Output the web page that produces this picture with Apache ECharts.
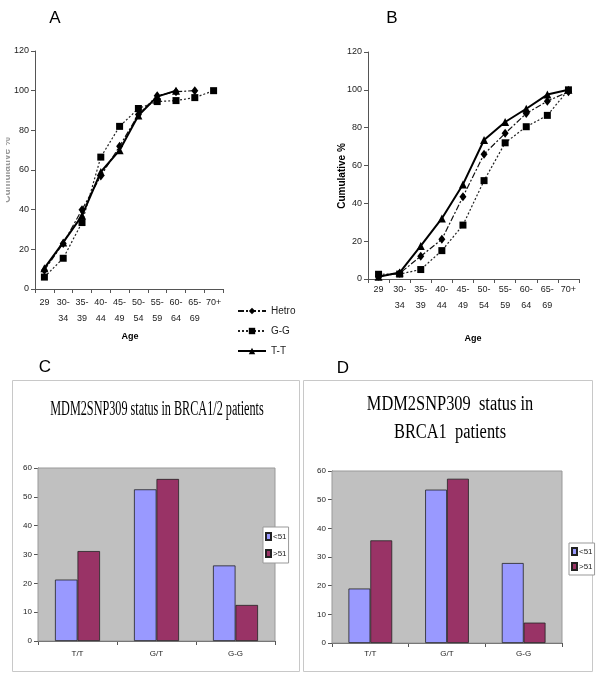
<!DOCTYPE html>
<html><head><meta charset="utf-8">
<script src="https://cdn.jsdelivr.net/npm/echarts@6/dist/echarts.min.js"></script>
<style>html,body{margin:0;padding:0;background:#fff}#c{width:600px;height:681px}</style>
</head><body><div id="c"></div>
<script>
const ageCats = ['29','30-\n34','35-\n39','40-\n44','45-\n49','50-\n54','55-\n59','60-\n64','65-\n69','70+'];
const lineNames = ['Hetro','G-G','T-T'];
const hetroA = [9.5,23,40,57,72,88,97.5,99.5,100,null];
const ggA    = [6,15.5,33.5,66.5,82,91,94.5,95,96.5,100];
const ttA    = [10.5,23.5,37,59,70,87.5,97,100,null,null];
const hetroB = [1.5,3,12,21,43.5,66,77,87.5,94,99];
const ggB    = [2.5,2.6,5,15,28.5,52,72,80.5,86.5,100];
const ttB    = [1.2,3.4,17.5,32,50,73.5,83,90,97.5,100];
const genoCats = ['T/T','G/T','G-G'];
const barNames = ['<51','>51'];
const ltC = [21.3,52.6,26.2];
const gtC = [31.2,56.2,12.5];
const ltD = [19,53.5,27.9];
const gtD = [35.8,57.3,7.1];
const cumTicks = [0,20,40,60,80,100,120];
const barTicks = [0,10,20,30,40,50,60];

const sans = "'Liberation Sans Narrow','Liberation Sans',Arial,sans-serif";
const serif = "'Liberation Serif','Times New Roman',serif";
const chart = echarts.init(document.getElementById('c'), null, {renderer:'canvas'});

function catAxis(gi, data, fs, lh, margin){
  return {type:'category', gridIndex:gi, data:data, boundaryGap:true,
    axisLine:{lineStyle:{color:'#555',width:1}},
    axisTick:{show:true, inside:false, length:4, alignWithLabel:false, lineStyle:{color:'#555'}},
    axisLabel:{fontFamily:sans, fontSize:fs, color:'#222', lineHeight:lh, margin:margin, interval:0}};
}
function valAxis(gi, ticks, fs, split){
  return {type:'value', gridIndex:gi, min:ticks[0], max:ticks[ticks.length-1], interval:ticks[1]-ticks[0],
    axisLine:{show:true, lineStyle:{color:'#555'}},
    axisTick:{show:true, inside:false, length:4, lineStyle:{color:'#555'}},
    axisLabel:{fontFamily:sans, fontSize:fs, color:'#222', margin:6},
    splitLine:{show:split, lineStyle:{color:'#808080', width:1}}};
}
const lineStyles = {
  'Hetro':{type:[6,2,2,2], width:1.2, color:'#111', symbol:'diamond', size:[7,9]},
  'G-G':{type:[2,2], width:1.2, color:'#222', symbol:'rect', size:7},
  'T-T':{type:'solid', width:2, color:'#000', symbol:'triangle', size:8}
};
function lineSeries(name, data, gi){
  const s = lineStyles[name];
  return {type:'line', name:name, xAxisIndex:gi, yAxisIndex:gi, data:data,
    symbol:s.symbol, symbolSize:s.size, showSymbol:true, connectNulls:false,
    lineStyle:{type:s.type, width:s.width, color:s.color},
    itemStyle:{color:'#000'}, animation:false};
}
function barSeries(name, data, gi){
  return {type:'bar', name:name, xAxisIndex:gi, yAxisIndex:gi, data:data,
    barGap:'0%', barCategoryGap:'43%',
    itemStyle:{color: name==='<51' ? '#9999ff' : '#993366', borderColor:'#222', borderWidth:0.8},
    animation:false};
}
function label(text, x, y, font, fill, extra){
  return Object.assign({type:'text', x:x, y:y, z:20,
    style:{text:text, font:font, fill:fill||'#000', textAlign:'center', textVerticalAlign:'middle'}}, extra||{});
}
const letterFont = "17px 'Liberation Sans',Arial,sans-serif";
const boldSmall = "bold 9px 'Liberation Sans',Arial,sans-serif";
const yNameFont = "bold 10px 'Liberation Sans',Arial,sans-serif";

const option = {
  backgroundColor:'#fff',
  animation:false,
  grid:[
    {left:35, top:51, width:188, height:238},
    {left:368, top:52, width:211, height:227},
    {left:38, top:468, width:237, height:173, show:true, backgroundColor:'#c0c0c0', borderColor:'#999', borderWidth:1, z:1},
    {left:332, top:471, width:230, height:172, show:true, backgroundColor:'#c0c0c0', borderColor:'#999', borderWidth:1, z:1}
  ],
  xAxis:[catAxis(0, ageCats, 9, 16, 6), catAxis(1, ageCats, 9, 16, 3), catAxis(2, genoCats, 8, 10, 8), catAxis(3, genoCats, 8, 10, 6)],
  yAxis:[valAxis(0, cumTicks, 9, false), valAxis(1, cumTicks, 9, false), valAxis(2, barTicks, 8, true), valAxis(3, barTicks, 8, true)],
  legend:[
    {data:lineNames, orient:'vertical', left:232, top:301, itemWidth:28, itemHeight:8, itemGap:10,
     textStyle:{fontFamily:sans, fontSize:10, color:'#222'}, selectedMode:false},
    {data:barNames, orient:'vertical', left:263, top:527, itemWidth:5, itemHeight:7, itemGap:8, icon:'rect',
     padding:[5,2,5,2], backgroundColor:'#fff', borderColor:'#999', borderWidth:1, z:10,
     textStyle:{fontFamily:sans, fontSize:8, color:'#222', padding:[0,0,0,-3]}, selectedMode:false},
    {data:barNames, orient:'vertical', left:569, top:543, itemWidth:5, itemHeight:7, itemGap:6, icon:'rect',
     padding:[4,2,4,2], backgroundColor:'#fff', borderColor:'#999', borderWidth:1, z:10,
     textStyle:{fontFamily:sans, fontSize:8, color:'#222', padding:[0,0,0,-3]}, selectedMode:false}
  ],
  graphic:[
    {type:'rect', shape:{x:12.5, y:380.5, width:287, height:291}, style:{fill:'none', stroke:'#c8c8c8', lineWidth:1}, z:0},
    {type:'rect', shape:{x:303.5, y:380.5, width:289, height:291}, style:{fill:'none', stroke:'#c8c8c8', lineWidth:1}, z:0},
    label('A', 55, 18, letterFont),
    label('B', 392, 18, letterFont),
    label('C', 45, 367, letterFont),
    label('D', 343, 368, letterFont),
    label('Age', 130, 337, boldSmall),
    label('Age', 473, 339, boldSmall),
    label('Cumulative %', 342, 176, yNameFont, '#000', {rotation:Math.PI/2}),
    label('Cumulative %', 7, 170, yNameFont, '#999', {rotation:Math.PI/2}),
    {type:'rect', shape:{x:0, y:120, width:6, height:110}, style:{fill:'#fff'}, z:30},
    label('MDM2SNP309 status in BRCA1/2 patients', 157, 410, "20px "+serif, '#000', {scaleX:0.61}),
    label('MDM2SNP309  status in', 450, 405, "20px "+serif, '#000', {scaleX:0.82}),
    label('BRCA1  patients', 450, 433, "20px "+serif, '#000', {scaleX:0.82})
  ],
  series:[
    lineSeries('Hetro', hetroA, 0), lineSeries('G-G', ggA, 0), lineSeries('T-T', ttA, 0),
    lineSeries('Hetro', hetroB, 1), lineSeries('G-G', ggB, 1), lineSeries('T-T', ttB, 1),
    barSeries('<51', ltC, 2), barSeries('>51', gtC, 2),
    barSeries('<51', ltD, 3), barSeries('>51', gtD, 3)
  ]
};
chart.setOption(option);
</script></body></html>
